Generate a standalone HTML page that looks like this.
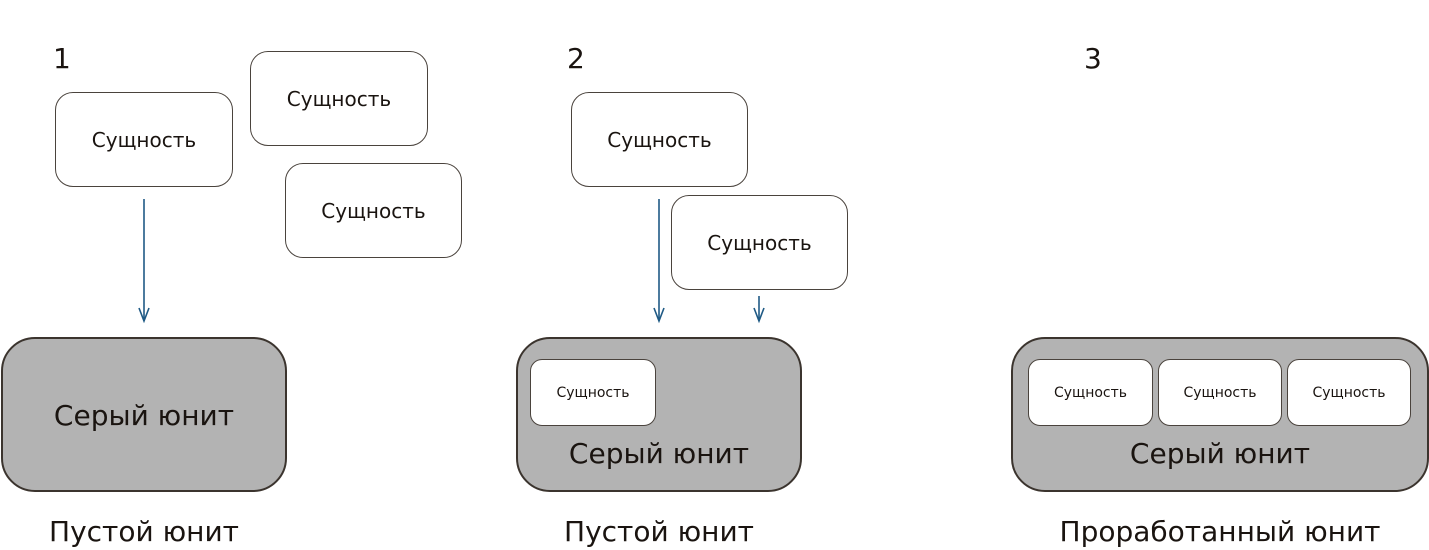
<!DOCTYPE html>
<html><head><meta charset="utf-8"><style>
body{margin:0;width:1429px;height:550px;background:#fff;position:relative;overflow:hidden;font-family:"DejaVu Sans","Liberation Sans",sans-serif;color:#1a1410}
.b{position:absolute;box-sizing:border-box;background:#fff;border:1px solid #4a433d;border-radius:18px;display:flex;align-items:center;justify-content:center;font-size:20px}
.s{position:absolute;box-sizing:border-box;background:#fff;border:1px solid #4a433d;border-radius:12px;display:flex;align-items:center;justify-content:center;font-size:14px}
.g{position:absolute;box-sizing:border-box;background:#b3b3b3;border:2px solid #3b342e;border-radius:34px}
.t{position:absolute;text-align:center;white-space:nowrap;font-size:28px}
.n{position:absolute;font-size:28px}
</style></head><body>
<div class="n" style="left:53px;top:42px">1</div>
<div class="n" style="left:567px;top:42px">2</div>
<div class="n" style="left:1084px;top:42px">3</div>

<div class="b" style="left:55px;top:92px;width:178px;height:95px">Сущность</div>
<div class="b" style="left:250px;top:51px;width:178px;height:95px">Сущность</div>
<div class="b" style="left:285px;top:163px;width:177px;height:95px">Сущность</div>
<div class="b" style="left:571px;top:92px;width:177px;height:95px">Сущность</div>
<div class="b" style="left:671px;top:195px;width:177px;height:95px">Сущность</div>

<svg style="position:absolute;left:0;top:0" width="1429" height="550">
<g stroke="#1f5a85" stroke-width="1.6" fill="none">
<line x1="144" y1="199" x2="144" y2="321"/><polyline points="139,308 144,321 149,308"/>
<line x1="659" y1="199" x2="659" y2="321"/><polyline points="654,308 659,321 664,308"/>
<line x1="759" y1="296" x2="759" y2="321"/><polyline points="754,308 759,321 764,308"/>
</g></svg>

<div class="g" style="left:1px;top:337px;width:286px;height:155px"></div>
<div class="t" style="left:1px;width:286px;top:399px">Серый юнит</div>
<div class="t" style="left:1px;width:286px;top:515px">Пустой юнит</div>

<div class="g" style="left:516px;top:337px;width:286px;height:155px"></div>
<div class="s" style="left:530px;top:359px;width:126px;height:67px">Сущность</div>
<div class="t" style="left:516px;width:286px;top:437px">Серый юнит</div>
<div class="t" style="left:516px;width:286px;top:515px">Пустой юнит</div>

<div class="g" style="left:1011px;top:337px;width:418px;height:155px"></div>
<div class="s" style="left:1028px;top:359px;width:125px;height:67px">Сущность</div>
<div class="s" style="left:1158px;top:359px;width:124px;height:67px">Сущность</div>
<div class="s" style="left:1287px;top:359px;width:124px;height:67px">Сущность</div>
<div class="t" style="left:1011px;width:418px;top:437px">Серый юнит</div>
<div class="t" style="left:1011px;width:418px;top:515px">Проработанный юнит</div>
</body></html>
